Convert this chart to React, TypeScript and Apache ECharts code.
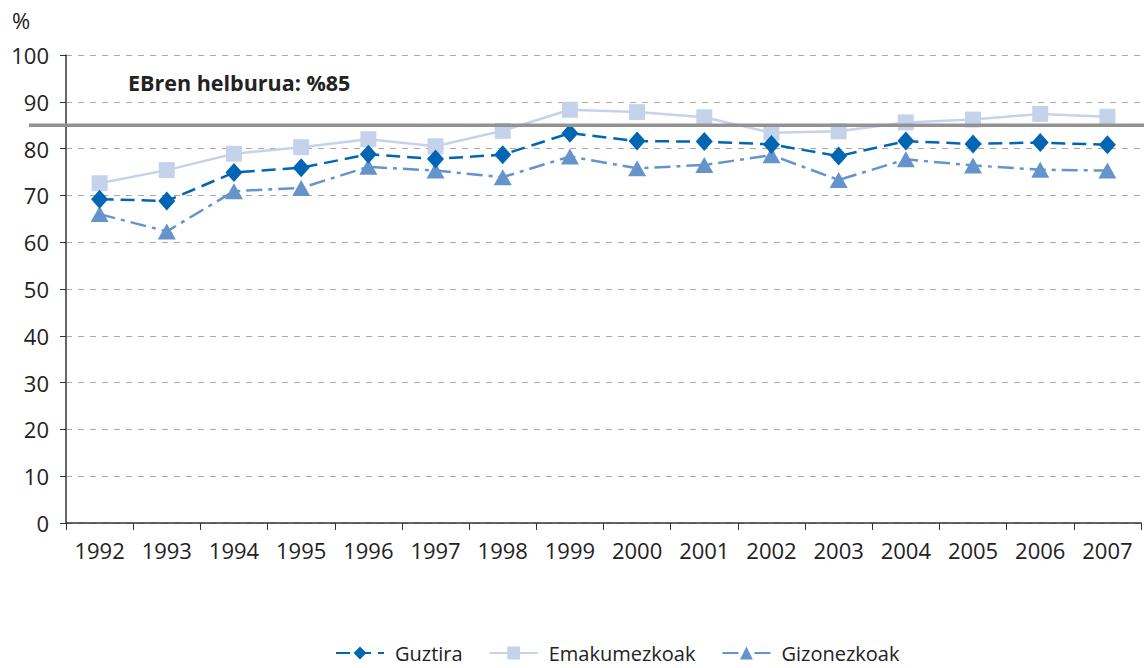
import React, { useEffect, useRef } from "react";
import * as echarts from "echarts";

const years = ["1992","1993","1994","1995","1996","1997","1998","1999","2000","2001","2002","2003","2004","2005","2006","2007"];
const guztira = [69.2,68.8,74.9,75.9,78.8,77.8,78.7,83.3,81.6,81.5,80.9,78.4,81.6,81.0,81.3,80.8];
const emakumezkoak = [72.6,75.4,78.9,80.3,82.0,80.5,83.8,88.3,87.8,86.7,83.4,83.7,85.6,86.2,87.4,86.8];
const gizonezkoak = [66.0,62.3,70.9,71.6,76.1,75.3,73.9,78.3,75.8,76.5,78.6,73.3,77.7,76.4,75.5,75.3];
const TARGET = 85;
const targetLabel = "EBren helburua: %85";
const FONT = "'Open Sans', sans-serif";

export default function App() {
  const ref = useRef<HTMLDivElement>(null);
  useEffect(() => {
    document.body.style.margin = "0";
    const chart = echarts.init(ref.current!, null, { renderer: "svg" });
    chart.setOption({
      animation: false,
      textStyle: { fontFamily: FONT },
      grid: { left: 66, right: 3, top: 55, bottom: 145 },
      legend: {
        bottom: 4,
        left: 330,
        padding: [0, 5, 0, 5],
        itemWidth: 48,
        itemHeight: 16,
        itemGap: 26,
        textStyle: { fontFamily: FONT, fontSize: 20, lineHeight: 22, color: "#222", padding: [0, 0, 0, 6] },
        data: ["Guztira", "Emakumezkoak", "Gizonezkoak"],
      },
      xAxis: {
        type: "category",
        data: years,
        boundaryGap: true,
        axisLine: { lineStyle: { color: "#333", width: 1.5 } },
        axisTick: { show: true, length: 7, lineStyle: { color: "#333" } },
        axisLabel: { color: "#222", fontSize: 22, fontFamily: FONT, margin: 16 },
      },
      yAxis: {
        type: "value",
        min: 0,
        max: 100,
        interval: 10,
        axisLine: { show: true, lineStyle: { color: "#333", width: 1.5 } },
        axisTick: { show: true, length: 6, lineStyle: { color: "#333" } },
        axisLabel: { color: "#222", fontSize: 22, fontFamily: FONT, margin: 17 },
        splitLine: { lineStyle: { color: "#aaa", type: [6, 6] } },
      },
      series: [
        {
          name: "Emakumezkoak",
          type: "line",
          data: emakumezkoak,
          symbol: "rect",
          symbolSize: 16,
          itemStyle: { color: "#c5d3ea" },
          lineStyle: { color: "#c5d3ea", width: 2.5 },
          z: 2,
        },
        {
          name: "Guztira",
          type: "line",
          data: guztira,
          symbol: "diamond",
          symbolSize: [17, 19],
          itemStyle: { color: "#0066b3" },
          lineStyle: { color: "#0066b3", width: 2.5, type: [14, 7] },
          z: 4,
        },
        {
          name: "Gizonezkoak",
          type: "line",
          data: gizonezkoak,
          symbol: "triangle",
          symbolSize: [18, 16],
          itemStyle: { color: "#6593cc" },
          lineStyle: { color: "#6593cc", width: 2.5, type: [16, 6, 4, 6] },
          z: 3,
        },
      ],
    });
    const y = chart.convertToPixel({ yAxisIndex: 0 }, TARGET) as number;
    chart.setOption({
      graphic: [
        {
          type: "line",
          z: 100,
          shape: { x1: 29, y1: y, x2: 1144, y2: y },
          style: { stroke: "#929292", lineWidth: 3.5 },
        },
        {
          type: "text",
          left: 128,
          top: y - 54,
          z: 100,
          style: { text: targetLabel, font: `bold 21.5px ${FONT}`, fill: "#222" },
        },
        {
          type: "text",
          left: 12,
          top: 9,
          style: { text: "%", font: `22px ${FONT}`, fill: "#222" },
        },
      ],
    });
    return () => chart.dispose();
  }, []);
  return <div ref={ref} style={{ width: 1144, height: 668 }} />;
}
